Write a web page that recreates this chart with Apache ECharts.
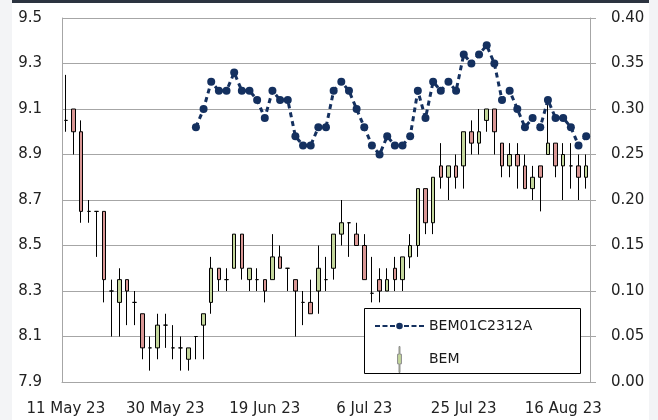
<!DOCTYPE html>
<html>
<head>
<meta charset="utf-8">
<script src="https://cdn.jsdelivr.net/npm/echarts/dist/echarts.min.js"></script>
<style>
  html, body { margin: 0; padding: 0; background: #f3f4f6; }
  #panel { position: absolute; left: 12px; top: 0; width: 637px; height: 420px; background: #fff; border-top: 3px solid #2c3440; box-sizing: border-box; }
  #chart { position: absolute; left: 0; top: 0; width: 658px; height: 420px; }
</style>
</head>
<body>
<div id="panel"></div>
<div id="chart"></div>
<script>
// trading days (labels every 13th day)
var dates = [
  '11 May 23', '12 May 23', '15 May 23', '16 May 23', '17 May 23', '18 May 23', '19 May 23', '22 May 23', '23 May 23', '24 May 23',
  '25 May 23', '26 May 23', '29 May 23', '30 May 23', '31 May 23', '1 Jun 23', '2 Jun 23', '6 Jun 23', '7 Jun 23', '8 Jun 23',
  '9 Jun 23', '12 Jun 23', '13 Jun 23', '14 Jun 23', '15 Jun 23', '16 Jun 23', '19 Jun 23', '20 Jun 23', '21 Jun 23', '22 Jun 23',
  '23 Jun 23', '26 Jun 23', '27 Jun 23', '28 Jun 23', '29 Jun 23', '30 Jun 23', '3 Jul 23', '4 Jul 23', '5 Jul 23', '6 Jul 23',
  '7 Jul 23', '10 Jul 23', '11 Jul 23', '12 Jul 23', '13 Jul 23', '14 Jul 23', '17 Jul 23', '18 Jul 23', '19 Jul 23', '20 Jul 23',
  '21 Jul 23', '24 Jul 23', '25 Jul 23', '26 Jul 23', '27 Jul 23', '31 Jul 23', '1 Aug 23', '2 Aug 23', '3 Aug 23', '4 Aug 23',
  '7 Aug 23', '9 Aug 23', '10 Aug 23', '11 Aug 23', '15 Aug 23', '16 Aug 23', '17 Aug 23', '18 Aug 23', '21 Aug 23'
];

// BEM prices
var opens = [
  9.05, 9.10, 9.00, 8.65, 8.65, 8.65, 8.30, 8.25, 8.35, 8.25,
  8.20, 8.05, 8.05, 8.15, 8.05, 8.05, 8.00, 8.10, 8.15, 8.25,
  8.40, 8.35, 8.40, 8.55, 8.35, 8.35, 8.35, 8.35, 8.45, 8.40,
  8.35, 8.25, 8.25, 8.30, 8.35, 8.40, 8.55, 8.60, 8.55, 8.50,
  8.29, 8.35, 8.30, 8.40, 8.35, 8.45, 8.50, 8.75, 8.60, 8.85,
  8.80, 8.85, 8.85, 9.00, 8.95, 9.05, 9.10, 8.95, 8.85, 8.90,
  8.85, 8.75, 8.85, 8.90, 8.95, 8.85, 8.85, 8.85, 8.80
];
var closes = [
  9.05, 9.00, 8.65, 8.65, 8.65, 8.35, 8.30, 8.35, 8.30, 8.25,
  8.05, 8.05, 8.15, 8.15, 8.05, 8.05, 8.05, 8.10, 8.20, 8.40,
  8.35, 8.35, 8.55, 8.40, 8.40, 8.35, 8.30, 8.45, 8.40, 8.40,
  8.30, 8.25, 8.20, 8.40, 8.35, 8.55, 8.60, 8.60, 8.50, 8.35,
  8.29, 8.30, 8.35, 8.35, 8.45, 8.50, 8.75, 8.60, 8.80, 8.80,
  8.85, 8.80, 9.00, 8.95, 9.00, 9.10, 9.00, 8.85, 8.90, 8.85,
  8.75, 8.80, 8.80, 8.95, 8.85, 8.90, 8.85, 8.80, 8.85
];
var lows = [
  9.00, 8.90, 8.60, 8.60, 8.45, 8.25, 8.10, 8.10, 8.15, 8.15,
  8.00, 7.95, 8.00, 8.05, 8.00, 7.95, 7.95, 8.00, 8.00, 8.20,
  8.30, 8.30, 8.40, 8.35, 8.30, 8.30, 8.25, 8.35, 8.40, 8.30,
  8.10, 8.15, 8.20, 8.20, 8.30, 8.35, 8.50, 8.45, 8.50, 8.35,
  8.25, 8.25, 8.30, 8.30, 8.30, 8.40, 8.45, 8.55, 8.55, 8.75,
  8.70, 8.75, 8.75, 8.90, 8.90, 9.00, 8.90, 8.80, 8.80, 8.75,
  8.75, 8.70, 8.65, 8.90, 8.80, 8.70, 8.75, 8.70, 8.75
];
var highs = [
  9.25, 9.10, 9.05, 8.70, 8.65, 8.65, 8.35, 8.40, 8.35, 8.30,
  8.20, 8.10, 8.20, 8.20, 8.15, 8.10, 8.05, 8.10, 8.20, 8.45,
  8.40, 8.40, 8.55, 8.55, 8.40, 8.40, 8.35, 8.55, 8.50, 8.40,
  8.35, 8.30, 8.35, 8.50, 8.45, 8.55, 8.70, 8.60, 8.60, 8.55,
  8.45, 8.40, 8.40, 8.45, 8.45, 8.55, 8.75, 8.75, 8.80, 8.95,
  8.85, 8.90, 9.00, 9.05, 9.10, 9.10, 9.10, 8.95, 8.95, 8.95,
  8.90, 8.85, 8.85, 9.12, 8.95, 8.95, 8.95, 8.90, 8.90
];

// BEM01C2312A (right axis), starts on 6 Jun
var warrant = [
  null, null, null, null, null, null, null, null, null, null,
  null, null, null, null, null, null, null, 0.28, 0.30, 0.33,
  0.32, 0.32, 0.34, 0.32, 0.32, 0.31, 0.29, 0.32, 0.31, 0.31,
  0.27, 0.26, 0.26, 0.28, 0.28, 0.32, 0.33, 0.32, 0.30, 0.28,
  0.26, 0.25, 0.27, 0.26, 0.26, 0.27, 0.32, 0.29, 0.33, 0.32,
  0.33, 0.32, 0.36, 0.35, 0.36, 0.37, 0.35, 0.31, 0.32, 0.30,
  0.28, 0.29, 0.28, 0.31, 0.29, 0.29, 0.28, 0.26, 0.27
];

var leftMin = 7.9, leftMax = 9.5, leftStep = 0.2;
var rightMin = 0, rightMax = 0.4, rightStep = 0.05;

var candles = opens.map(function (o, i) {
  return [o, closes[i], lows[i], highs[i]];
});

var navy = '#14305f';
var gridColor = '#a6a6a6';
var font = 'DejaVu Sans';

var lineIcon = 'path://M0,2.5h5v2h-5z M7.5,2.5h5v2h-5z M15,2.5h5v2h-5z M21.2,3.5a3.3,3.3 0 1,0 6.6,0a3.3,3.3 0 1,0 -6.6,0z M29,2.5h5v2h-5z M36.5,2.5h5v2h-5z M44,2.5h5v2h-5z';
var candleIcon = 'path://M1.5,0h1v8h1.5v10h-1.5v9h-1v-9h-1.5v-10h1.5z';

var myChart = echarts.init(document.getElementById('chart'));
var option = {
  animation: false,
  backgroundColor: 'transparent',
  grid: { left: 62, right: 68, top: 18, bottom: 38, outerBoundsMode: 'none' },
  graphic: [{
    type: 'rect',
    z: 5,
    shape: { x: 364.5, y: 308.5, width: 216, height: 65 },
    style: { fill: '#fff', stroke: '#000', lineWidth: 1 }
  }],
  legend: {
    z: 10,
    orient: 'vertical',
    left: 375,
    top: 319,
    itemWidth: 49,
    itemHeight: 26,
    itemGap: 13,
    padding: 0,
    textStyle: { fontFamily: font, fontSize: 14, color: '#1a1a1a' },
    data: [
      { name: 'BEM01C2312A', icon: lineIcon, itemStyle: { color: navy, borderWidth: 0 } },
      { name: 'BEM', icon: candleIcon, itemStyle: { color: '#c3d69b', borderColor: '#8c8c8c', borderWidth: 1 } }
    ]
  },
  xAxis: {
    type: 'category',
    data: dates,
    boundaryGap: true,
    axisLine: { show: true, lineStyle: { color: gridColor, width: 1 } },
    axisTick: { show: false },
    splitLine: { show: false },
    axisLabel: { interval: 12, margin: 20, color: '#222', fontFamily: font, fontSize: 15 }
  },
  yAxis: [
    {
      type: 'value',
      min: leftMin,
      max: leftMax,
      interval: leftStep,
      axisLine: { show: true, lineStyle: { color: gridColor, width: 1 } },
      axisTick: { show: false },
      splitLine: { show: true, lineStyle: { color: gridColor, width: 1 } },
      axisLabel: {
        margin: 20, color: '#222', fontFamily: font, fontSize: 15,
        formatter: function (v) { return v.toFixed(1); }
      }
    },
    {
      type: 'value',
      min: rightMin,
      max: rightMax,
      interval: rightStep,
      position: 'right',
      axisLine: { show: true, lineStyle: { color: gridColor, width: 1 } },
      axisTick: { show: true, inside: false, length: 6, lineStyle: { color: gridColor } },
      splitLine: { show: false },
      axisLabel: {
        margin: 21, color: '#222', fontFamily: font, fontSize: 15,
        formatter: function (v) { return v.toFixed(2); }
      }
    }
  ],
  series: [
    {
      name: 'BEM',
      type: 'candlestick',
      yAxisIndex: 0,
      barWidth: 4,
      itemStyle: {
        color: '#c3d69b',
        color0: '#d99694',
        borderColor: '#000',
        borderColor0: '#000',
        borderWidth: 1
      },
      data: candles
    },
    {
      name: 'BEM01C2312A',
      type: 'line',
      yAxisIndex: 1,
      symbol: 'circle',
      symbolSize: 8,
      showSymbol: true,
      showAllSymbol: true,
      z: 3,
      itemStyle: { color: navy, borderWidth: 0 },
      lineStyle: { color: navy, width: 3, type: [5, 4] },
      data: warrant
    }
  ]
};

option && myChart.setOption(option);
</script>
</body>
</html>
